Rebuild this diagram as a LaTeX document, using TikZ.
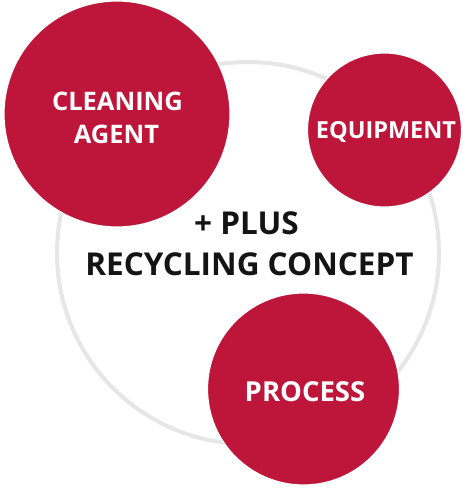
\documentclass[tikz,border=0pt]{standalone}
\usepackage{fontspec}
\setmainfont{Open Sans}
\definecolor{brandred}{RGB}{190,21,58}
\definecolor{ringgray}{RGB}{230,230,230}
\begin{document}
\begin{tikzpicture}[x=1pt,y=-1pt,
  redcirc/.style={circle,fill=brandred,draw=white,line width=1.2pt,inner sep=0pt},
  whitetxt/.style={text=white,font=\bfseries\fontsize{25.5}{30}\selectfont,anchor=base,inner sep=0pt},
  blacktxt/.style={text=black!92,font=\bfseries\fontsize{31.5}{36}\selectfont,anchor=base,inner sep=0pt}]
\useasboundingbox[fill=white] (0,0) rectangle (463,490);
\draw[ringgray,line width=4pt] (248,253) circle[radius=191pt];
\node[redcirc,minimum size=226pt] (clean) at (117,114) {};
\node[redcirc,minimum size=154pt] (equip) at (384.5,130) {};
\node[redcirc,minimum size=192pt] (proc) at (303.5,389) {};
\node[whitetxt] (t1) at (117.5,110) {CLEANING};
\node[whitetxt] (t2) at (116.5,143) {AGENT};
\node[whitetxt,font=\bfseries\fontsize{23.5}{28}\selectfont] (t3) at (386,138) {EQUIPMENT};
\node[whitetxt,font=\bfseries\fontsize{27.5}{32}\selectfont] (t4) at (305,401) {PROCESS};
\node[blacktxt] (c1) at (246.5,234) {+ PLUS};
\node[blacktxt] (c2) at (249.5,275) {RECYCLING CONCEPT};
\end{tikzpicture}
\end{document}
